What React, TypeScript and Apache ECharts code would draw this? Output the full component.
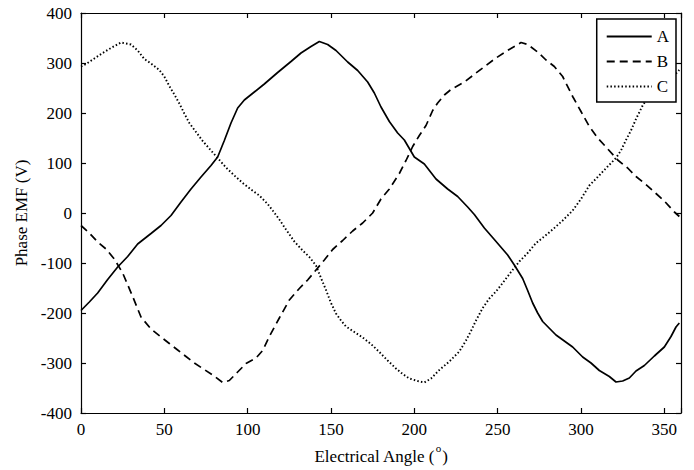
import React, { useEffect, useRef } from "react";
import * as echarts from "echarts";

const seriesNames = ["A", "B", "C"];

const angleA = [0, 5, 10, 16, 22, 28, 34, 42, 48, 54, 60, 66, 72, 78, 82, 86, 90, 94, 98, 104, 110, 118, 126, 132, 138, 143, 148, 153, 160, 166, 172, 176, 180, 185, 190, 194, 200, 206, 213, 220, 226, 232, 236, 242, 248, 256, 260, 265, 268, 271, 274, 277, 285, 295, 301, 306, 311, 317, 321, 325, 329, 333, 338, 344, 350, 354, 357, 359];
const emfA = [-195, -178, -160, -133, -108, -87, -62, -41, -25, -5, 22, 48, 72, 95, 112, 145, 180, 210, 226, 242, 258, 281, 303, 320, 333, 343, 337, 325, 302, 285, 262, 240, 212, 183, 160, 146, 112, 98, 68, 48, 33, 12, -3, -30, -53, -84, -104, -131, -155, -180, -200, -217, -244, -268, -288, -300, -315, -327, -338, -336, -330, -316, -305, -286, -268, -247, -228, -220];

const angleB = [0, 5, 10, 15, 20, 25, 31, 36, 42, 48, 53, 58, 63, 68, 73, 79, 85, 89, 94, 99, 105, 109, 113, 119, 125, 131, 136, 141, 146, 151, 157, 163, 169, 175, 180, 185, 191, 195, 199, 203, 207, 211, 214, 218, 222, 230, 237, 243, 249, 256, 264, 268, 274, 279, 284, 289, 295, 300, 305, 310, 315, 322, 328, 333, 339, 345, 350, 356, 359];
const emfB = [-25, -40, -58, -72, -92, -120, -167, -208, -232, -248, -261, -274, -287, -300, -311, -324, -339, -335, -318, -301, -290, -275, -247, -210, -174, -151, -134, -114, -94, -73, -55, -36, -20, 0, 28, 48, 79, 105, 133, 155, 175, 205, 220, 236, 247, 262, 280, 295, 310, 325, 341, 337, 322, 306, 293, 273, 233, 203, 173, 150, 132, 106, 90, 73, 57, 39, 24, 2, -7];

const angleC = [0, 3, 8, 13, 18, 24, 30, 34, 38, 42, 47, 50, 53, 56, 59, 62, 65, 69, 73, 78, 82, 87, 92, 97, 102, 107, 112, 115, 119, 123, 128, 133, 137, 141, 144, 147, 150, 153, 156, 159, 164, 169, 174, 179, 184, 189, 193, 197, 202, 206, 210, 215, 221, 227, 231, 234, 237, 241, 245, 249, 253, 258, 263, 268, 273, 278, 283, 289, 295, 300, 305, 310, 316, 321, 324, 327, 330, 333, 337, 341, 345, 350, 355, 359];
const emfC = [293, 298, 309, 320, 330, 341, 337, 325, 308, 299, 286, 273, 254, 237, 219, 199, 180, 162, 144, 125, 110, 91, 75, 60, 47, 35, 18, 5, -13, -33, -57, -75, -88, -105, -130, -154, -180, -201, -215, -227, -238, -249, -262, -278, -295, -311, -322, -331, -336, -339, -331, -314, -297, -277, -255, -236, -215, -190, -171, -157, -140, -118, -97, -80, -60, -47, -33, -15, 5, 28, 55, 72, 93, 110, 125, 146, 165, 188, 215, 236, 246, 258, 272, 286];

const xTicks = [0, 50, 100, 150, 200, 250, 300, 350];
const yTicks = [-400, -300, -200, -100, 0, 100, 200, 300, 400];

const FONT = "'Liberation Serif', 'Times New Roman', serif";

function pairs(xs: number[], ys: number[]) {
  return xs.map((x, i) => [x, ys[i]]);
}

export default function App() {
  const ref = useRef<HTMLDivElement>(null);
  useEffect(() => {
    if (!ref.current) return;
    const chart = echarts.init(ref.current, null, { renderer: "svg" });
    const axisCommon = {
      axisLine: { show: true, onZero: false, lineStyle: { color: "#000", width: 1.2 } },
      axisTick: { show: true, inside: true, length: 5, lineStyle: { color: "#000", width: 1.2 } },
      splitLine: { show: false },
    };
    const xMin = xTicks[0];
    const xMax = 360;
    const xInt = xTicks[1] - xTicks[0];
    const yMin = yTicks[0];
    const yMax = yTicks[yTicks.length - 1];
    const yInt = yTicks[1] - yTicks[0];
    const lineSeries = (name: string, data: number[][], type: any, dash?: number[]) => ({
      name,
      type: "line",
      data,
      showSymbol: false,
      symbol: "none",
      xAxisIndex: 0,
      yAxisIndex: 0,
      lineStyle: { color: "#000", width: type === "dotted" ? 1.9 : 1.7, type: dash ? dash : type },
      itemStyle: { color: "#000" },
    });
    chart.setOption({
      animation: false,
      backgroundColor: "#fff",
      grid: { left: 81, right: 13, top: 13, bottom: 57 },
      legend: {
        data: seriesNames,
        orient: "vertical",
        right: 18,
        top: 19,
        itemWidth: 45,
        itemHeight: 14,
        itemGap: 8,
        padding: [9, 7, 7, 9],
        borderColor: "#000",
        borderWidth: 1.5,
        backgroundColor: "#fff",
        itemStyle: { opacity: 0, borderWidth: 0 },
        textStyle: { fontFamily: FONT, fontSize: 17, color: "#000" },
      },
      xAxis: [
        {
          type: "value",
          min: xMin,
          max: xMax,
          interval: xInt,
          position: "bottom",
          ...axisCommon,
          axisLabel: {
            margin: 8,
            fontFamily: FONT,
            fontSize: 17,
            color: "#000",
            formatter: (v: number) => (xTicks.includes(v) ? String(v) : ""),
          },
          name: "{n|Electrical Angle (}{s|o}{n|)}",
          nameLocation: "middle",
          nameGap: 23,
          nameTextStyle: {
            fontFamily: FONT,
            fontSize: 17,
            color: "#000",
            rich: {
              n: { fontFamily: FONT, fontSize: 17, color: "#000", lineHeight: 22, verticalAlign: "bottom" },
              s: { fontFamily: FONT, fontSize: 11, color: "#000", lineHeight: 11, verticalAlign: "top", padding: [0, 1, 0, 1] },
            },
          },
        },
        {
          type: "value",
          min: xMin,
          max: xMax,
          interval: xInt,
          position: "top",
          ...axisCommon,
          axisLabel: { show: false },
        },
      ],
      yAxis: [
        {
          type: "value",
          min: yMin,
          max: yMax,
          interval: yInt,
          position: "left",
          ...axisCommon,
          axisLabel: { margin: 9, fontFamily: FONT, fontSize: 17, color: "#000" },
          name: "Phase EMF (V)",
          nameLocation: "middle",
          nameGap: 42,
          nameTextStyle: { fontFamily: FONT, fontSize: 17, color: "#000" },
        },
        {
          type: "value",
          min: yMin,
          max: yMax,
          interval: yInt,
          position: "right",
          ...axisCommon,
          axisLabel: { show: false },
        },
      ],
      series: [
        lineSeries(seriesNames[0], pairs(angleA, emfA), "solid"),
        lineSeries(seriesNames[1], pairs(angleB, emfB), "dashed", [8, 5]),
        lineSeries(seriesNames[2], pairs(angleC, emfC), "dotted", [1.5, 2.2]),
      ],
    });
    return () => chart.dispose();
  }, []);
  return (
    <div
      ref={ref}
      style={{ position: "fixed", left: 0, top: 0, width: 694, height: 470, background: "#fff" }}
    />
  );
}
